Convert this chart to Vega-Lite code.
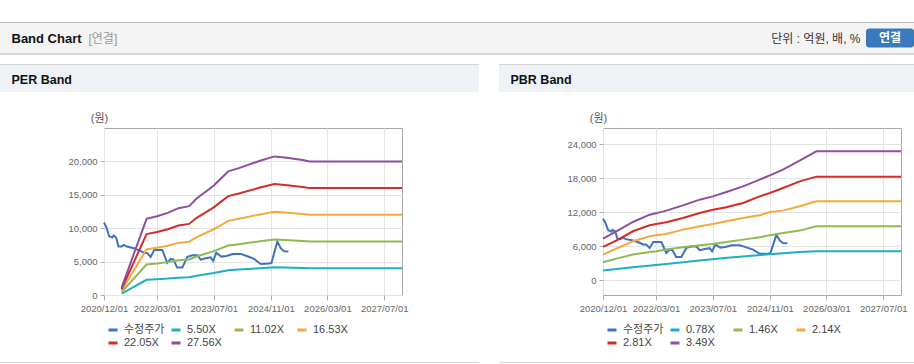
{
"$schema": "https://vega.github.io/schema/vega-lite/v6.json",
"padding": {"left": 0, "top": 22, "right": 0, "bottom": 0},
"background": "white",
"config": {
  "font": "Liberation Sans, Noto Sans CJK KR, sans-serif",
  "view": {"stroke": null},
  "axis": {"labelFontSize": 9.5, "labelColor": "#666666", "gridColor": "#e4e4e4", "tickColor": "#b0b0b0", "domain": false, "titleFontWeight": "normal", "labelOverlap": false, "labelFlush": false},
  "legend": {"orient": "none", "legendX": 3, "legendY": 196, "direction": "horizontal", "columns": 4, "symbolType": "stroke", "symbolSize": 81, "symbolStrokeWidth": 3, "labelFontSize": 11, "labelColor": "#444444", "labelOffset": 5, "gridAlign": "all", "columnPadding": 0, "rowPadding": 1, "padding": 0}
},
"datasets": {
  "price": [
    {"d":"2020-12-01","v":10850},{"d":"2020-12-20","v":10200},{"d":"2021-01-15","v":8800},{"d":"2021-02-10","v":8600},
    {"d":"2021-02-22","v":8900},{"d":"2021-03-15","v":8600},{"d":"2021-04-05","v":7250},{"d":"2021-04-30","v":7250},
    {"d":"2021-05-20","v":7500},{"d":"2021-06-15","v":7250},{"d":"2021-08-15","v":7000},{"d":"2021-10-12","v":6600},
    {"d":"2021-11-09","v":6300},{"d":"2021-12-05","v":6300},{"d":"2022-01-05","v":5700},{"d":"2022-02-05","v":6750},
    {"d":"2022-04-15","v":6750},{"d":"2022-05-28","v":4800},{"d":"2022-06-26","v":5400},{"d":"2022-07-20","v":5300},
    {"d":"2022-08-20","v":4100},{"d":"2022-10-04","v":4100},{"d":"2022-11-16","v":5700},{"d":"2022-12-29","v":5950},
    {"d":"2023-02-10","v":5950},{"d":"2023-03-10","v":5300},{"d":"2023-04-22","v":5500},{"d":"2023-06-04","v":5650},
    {"d":"2023-06-25","v":5100},{"d":"2023-07-22","v":6300},{"d":"2023-09-03","v":5750},{"d":"2023-10-16","v":5850},
    {"d":"2023-12-12","v":6150},{"d":"2024-02-17","v":6150},{"d":"2024-04-14","v":5800},{"d":"2024-06-10","v":5400},
    {"d":"2024-08-06","v":4650},{"d":"2024-10-20","v":4700},{"d":"2024-11-06","v":4800},{"d":"2024-12-27","v":8000},
    {"d":"2025-01-25","v":7000},{"d":"2025-02-22","v":6550},{"d":"2025-04-01","v":6500}
  ],
  "per": [
    {"s":"5.50X","d":"2021-05-01","v":220},{"s":"5.50X","d":"2021-12-01","v":2280},{"s":"5.50X","d":"2022-03-01","v":2360},{"s":"5.50X","d":"2022-06-01","v":2460},
    {"s":"5.50X","d":"2022-09-01","v":2600},{"s":"5.50X","d":"2022-12-01","v":2660},{"s":"5.50X","d":"2023-02-01","v":2880},{"s":"5.50X","d":"2023-07-01","v":3280},
    {"s":"5.50X","d":"2023-11-01","v":3700},{"s":"5.50X","d":"2024-02-01","v":3800},{"s":"5.50X","d":"2024-08-01","v":4020},{"s":"5.50X","d":"2024-12-01","v":4150},
    {"s":"5.50X","d":"2025-03-01","v":4120},{"s":"5.50X","d":"2025-08-01","v":4040},{"s":"5.50X","d":"2025-10-01","v":4000},{"s":"5.50X","d":"2027-12-01","v":4000},
    {"s":"11.02X","d":"2021-05-01","v":440},{"s":"11.02X","d":"2021-12-01","v":4560},{"s":"11.02X","d":"2022-03-01","v":4720},{"s":"11.02X","d":"2022-06-01","v":4920},
    {"s":"11.02X","d":"2022-09-01","v":5200},{"s":"11.02X","d":"2022-12-01","v":5320},{"s":"11.02X","d":"2023-02-01","v":5760},{"s":"11.02X","d":"2023-07-01","v":6560},
    {"s":"11.02X","d":"2023-11-01","v":7400},{"s":"11.02X","d":"2024-02-01","v":7600},{"s":"11.02X","d":"2024-08-01","v":8040},{"s":"11.02X","d":"2024-12-01","v":8300},
    {"s":"11.02X","d":"2025-03-01","v":8240},{"s":"11.02X","d":"2025-08-01","v":8080},{"s":"11.02X","d":"2025-10-01","v":8000},{"s":"11.02X","d":"2027-12-01","v":8000},
    {"s":"16.53X","d":"2021-05-01","v":660},{"s":"16.53X","d":"2021-12-01","v":6840},{"s":"16.53X","d":"2022-03-01","v":7080},{"s":"16.53X","d":"2022-06-01","v":7380},
    {"s":"16.53X","d":"2022-09-01","v":7800},{"s":"16.53X","d":"2022-12-01","v":7980},{"s":"16.53X","d":"2023-02-01","v":8640},{"s":"16.53X","d":"2023-07-01","v":9840},
    {"s":"16.53X","d":"2023-11-01","v":11100},{"s":"16.53X","d":"2024-02-01","v":11400},{"s":"16.53X","d":"2024-08-01","v":12060},{"s":"16.53X","d":"2024-12-01","v":12450},
    {"s":"16.53X","d":"2025-03-01","v":12360},{"s":"16.53X","d":"2025-08-01","v":12120},{"s":"16.53X","d":"2025-10-01","v":12000},{"s":"16.53X","d":"2027-12-01","v":12000},
    {"s":"22.05X","d":"2021-05-01","v":880},{"s":"22.05X","d":"2021-12-01","v":9120},{"s":"22.05X","d":"2022-03-01","v":9440},{"s":"22.05X","d":"2022-06-01","v":9840},
    {"s":"22.05X","d":"2022-09-01","v":10400},{"s":"22.05X","d":"2022-12-01","v":10640},{"s":"22.05X","d":"2023-02-01","v":11520},{"s":"22.05X","d":"2023-07-01","v":13120},
    {"s":"22.05X","d":"2023-11-01","v":14800},{"s":"22.05X","d":"2024-02-01","v":15200},{"s":"22.05X","d":"2024-08-01","v":16080},{"s":"22.05X","d":"2024-12-01","v":16600},
    {"s":"22.05X","d":"2025-03-01","v":16480},{"s":"22.05X","d":"2025-08-01","v":16160},{"s":"22.05X","d":"2025-10-01","v":16000},{"s":"22.05X","d":"2027-12-01","v":16000},
    {"s":"27.56X","d":"2021-05-01","v":1100},{"s":"27.56X","d":"2021-12-01","v":11400},{"s":"27.56X","d":"2022-03-01","v":11800},{"s":"27.56X","d":"2022-06-01","v":12300},
    {"s":"27.56X","d":"2022-09-01","v":13000},{"s":"27.56X","d":"2022-12-01","v":13300},{"s":"27.56X","d":"2023-02-01","v":14400},{"s":"27.56X","d":"2023-07-01","v":16400},
    {"s":"27.56X","d":"2023-11-01","v":18500},{"s":"27.56X","d":"2024-02-01","v":19000},{"s":"27.56X","d":"2024-08-01","v":20100},{"s":"27.56X","d":"2024-12-01","v":20750},
    {"s":"27.56X","d":"2025-03-01","v":20600},{"s":"27.56X","d":"2025-08-01","v":20200},{"s":"27.56X","d":"2025-10-01","v":20000},{"s":"27.56X","d":"2027-12-01","v":20000}
  ],
  "pbr": [
    {"s":"0.78X","d":"2020-12-01","v":1700},{"s":"0.78X","d":"2021-08-15","v":2290},{"s":"0.78X","d":"2022-05-28","v":2880},{"s":"0.78X","d":"2023-03-10","v":3460},
    {"s":"0.78X","d":"2023-12-21","v":4050},{"s":"0.78X","d":"2024-10-02","v":4520},{"s":"0.78X","d":"2025-07-15","v":4990},{"s":"0.78X","d":"2025-12-05","v":5110},{"s":"0.78X","d":"2027-12-01","v":5110},
    {"s":"1.46X","d":"2020-12-01","v":3170},{"s":"1.46X","d":"2021-03-25","v":3815},{"s":"1.46X","d":"2021-08-15","v":4520},{"s":"1.46X","d":"2022-01-05","v":4990},
    {"s":"1.46X","d":"2022-03-01","v":5100},{"s":"1.46X","d":"2022-05-28","v":5400},{"s":"1.46X","d":"2022-10-18","v":5810},{"s":"1.46X","d":"2023-03-10","v":6160},
    {"s":"1.46X","d":"2023-07-01","v":6400},{"s":"1.46X","d":"2023-10-25","v":6750},{"s":"1.46X","d":"2024-03-16","v":7160},{"s":"1.46X","d":"2024-08-06","v":7570},
    {"s":"1.46X","d":"2024-11-01","v":7920},{"s":"1.46X","d":"2025-02-22","v":8335},{"s":"1.46X","d":"2025-07-15","v":8750},{"s":"1.46X","d":"2025-12-05","v":9510},{"s":"1.46X","d":"2027-12-01","v":9510},
    {"s":"2.14X","d":"2020-12-01","v":4520},{"s":"2.14X","d":"2021-03-25","v":5577},{"s":"2.14X","d":"2021-08-15","v":6870},{"s":"2.14X","d":"2022-01-05","v":7750},
    {"s":"2.14X","d":"2022-03-01","v":7950},{"s":"2.14X","d":"2022-05-28","v":8160},{"s":"2.14X","d":"2022-10-18","v":8920},{"s":"2.14X","d":"2023-03-10","v":9510},
    {"s":"2.14X","d":"2023-07-01","v":9920},{"s":"2.14X","d":"2023-10-25","v":10390},{"s":"2.14X","d":"2024-03-16","v":10980},{"s":"2.14X","d":"2024-08-06","v":11450},
    {"s":"2.14X","d":"2024-11-01","v":12030},{"s":"2.14X","d":"2025-02-22","v":12270},{"s":"2.14X","d":"2025-07-15","v":13030},{"s":"2.14X","d":"2025-12-05","v":13910},{"s":"2.14X","d":"2027-12-01","v":13910},
    {"s":"2.81X","d":"2020-12-01","v":5870},{"s":"2.81X","d":"2021-03-25","v":6985},{"s":"2.81X","d":"2021-08-15","v":8630},{"s":"2.81X","d":"2022-01-05","v":9685},
    {"s":"2.81X","d":"2022-03-01","v":9900},{"s":"2.81X","d":"2022-05-28","v":10210},{"s":"2.81X","d":"2022-10-18","v":10980},{"s":"2.81X","d":"2023-03-10","v":11860},
    {"s":"2.81X","d":"2023-07-01","v":12440},{"s":"2.81X","d":"2023-10-25","v":12850},{"s":"2.81X","d":"2024-03-16","v":13620},{"s":"2.81X","d":"2024-08-06","v":14790},
    {"s":"2.81X","d":"2024-11-01","v":15380},{"s":"2.81X","d":"2025-02-22","v":16260},{"s":"2.81X","d":"2025-07-15","v":17430},{"s":"2.81X","d":"2025-12-05","v":18260},{"s":"2.81X","d":"2027-12-01","v":18260},
    {"s":"3.49X","d":"2020-12-01","v":7330},{"s":"3.49X","d":"2021-03-25","v":8630},{"s":"3.49X","d":"2021-08-15","v":10270},{"s":"3.49X","d":"2022-01-05","v":11560},
    {"s":"3.49X","d":"2022-03-01","v":11790},{"s":"3.49X","d":"2022-05-28","v":12270},{"s":"3.49X","d":"2022-10-18","v":13200},{"s":"3.49X","d":"2023-03-10","v":14200},
    {"s":"3.49X","d":"2023-07-01","v":14780},{"s":"3.49X","d":"2023-10-25","v":15550},{"s":"3.49X","d":"2024-03-16","v":16550},{"s":"3.49X","d":"2024-08-06","v":17730},
    {"s":"3.49X","d":"2024-11-01","v":18480},{"s":"3.49X","d":"2025-02-22","v":19480},{"s":"3.49X","d":"2025-07-15","v":21070},{"s":"3.49X","d":"2025-12-05","v":22720},{"s":"3.49X","d":"2027-12-01","v":22720}
  ]
},
"vconcat": [
  {
    "vconcat": [
      {
        "vconcat": [
          {"width": 914, "height": 1, "data": {"values": []}, "mark": "point", "view": {"fill": "#b9b9b9", "stroke": null}},
          {
            "hconcat": [
              {
                "width": 866, "height": 30,
                "view": {"fill": "#f4f4f4", "stroke": null},
                "data": {"values": []},
                "layer": [
                  {"mark": "point", "encoding": {
                    "x": {"field": "a", "type": "quantitative", "scale": {"domain": [0, 1]}, "axis": {"orient": "bottom", "title": "단위 : 억원, 배, %", "titleX": 860, "titleY": -15, "titleAlign": "right", "titleBaseline": "middle", "titleAngle": 0, "titleFontSize": 12, "titleColor": "#333333", "labels": false, "ticks": false, "grid": false, "domain": false}},
                    "y": {"field": "b", "type": "quantitative", "scale": {"domain": [0, 1]}, "axis": {"orient": "left", "title": "Band Chart", "titleX": 11, "titleY": 15, "titleAlign": "left", "titleBaseline": "middle", "titleAngle": 0, "titleFontSize": 13, "titleFontWeight": "bold", "titleColor": "#111111", "labels": false, "ticks": false, "grid": false, "domain": false}}
                  }},
                  {"mark": "point", "encoding": {
                    "x": {"field": "a", "type": "quantitative", "scale": {"domain": [0, 1]}, "axis": {"orient": "top", "title": "[연결]", "titleX": 88, "titleY": 15, "titleAlign": "left", "titleBaseline": "middle", "titleAngle": 0, "titleFontSize": 12, "titleColor": "#999999", "labels": false, "ticks": false, "grid": false, "domain": false}}
                  }}
                ],
                "resolve": {"scale": {"x": "independent"}, "axis": {"x": "independent"}}
              },
              {
                "width": 48, "height": 30,
                "view": {"fill": "#f4f4f4", "stroke": null},
                "data": {"values": [{"k": "연결"}]},
                "layer": [
                  {"mark": {"type": "rect", "fill": "#3a79bc", "cornerRadius": 3},
                   "encoding": {"y": {"field": "k", "type": "nominal", "scale": {"paddingInner": 0, "paddingOuter": 0.29}, "axis": null}}},
                  {"mark": {"type": "text", "color": "#ffffff", "fontWeight": "bold", "fontSize": 12},
                   "encoding": {"y": {"field": "k", "type": "nominal", "axis": null}, "text": {"field": "k"}}}
                ]
              }
            ],
            "spacing": 0, "bounds": "flush"
          }
        ],
        "spacing": 0, "bounds": "flush"
      },
      {"width": 914, "height": 2, "data": {"values": []}, "mark": "point", "view": {"fill": "#d9d9d9", "stroke": null}}
    ],
    "spacing": 31, "bounds": "flush"
  },
  {
    "vconcat": [
      {
        "vconcat": [
          {"hconcat": [
            {"width": 479, "height": 1, "data": {"values": []}, "mark": "point", "view": {"fill": "#d5d5d5", "stroke": null}},
            {"width": 415, "height": 1, "data": {"values": []}, "mark": "point", "view": {"fill": "#d5d5d5", "stroke": null}}
          ], "spacing": 20, "bounds": "flush"},
          {"hconcat": [
            {"width": 479, "height": 27, "data": {"values": []}, "mark": "point", "view": {"fill": "#eef2f7", "stroke": null},
             "encoding": {"y": {"field": "b", "type": "quantitative", "scale": {"domain": [0, 1]}, "axis": {"orient": "left", "title": "PER Band", "titleX": 11, "titleY": 14.5, "titleAlign": "left", "titleBaseline": "middle", "titleAngle": 0, "titleFontSize": 12.5, "titleFontWeight": "bold", "titleColor": "#111111", "labels": false, "ticks": false, "grid": false, "domain": false}}}},
            {"width": 415, "height": 27, "data": {"values": []}, "mark": "point", "view": {"fill": "#eef2f7", "stroke": null},
             "encoding": {"y": {"field": "b", "type": "quantitative", "scale": {"domain": [0, 1]}, "axis": {"orient": "left", "title": "PBR Band", "titleX": 11, "titleY": 14.5, "titleAlign": "left", "titleBaseline": "middle", "titleAngle": 0, "titleFontSize": 12.5, "titleFontWeight": "bold", "titleColor": "#111111", "labels": false, "ticks": false, "grid": false, "domain": false}}}}
          ], "spacing": 20, "bounds": "flush"}
        ],
        "spacing": 1, "bounds": "flush"
      },
      {
        "vconcat": [
          {
            "hconcat": [
              {"width": 104, "height": 167, "data": {"values": []}, "mark": "point"},
              {
                "width": 298, "height": 167,
                "view": {"stroke": "#a8a8a8", "fill": "white"},
                "encoding": {
                  "x": {"field": "d", "type": "temporal",
                        "scale": {"domain": [{"year": 2020, "month": 12, "date": 1}, {"year": 2027, "month": 12, "date": 1}], "nice": false},
                        "axis": {"title": null, "format": "%Y/%m/%d", "grid": true, "tickSize": 5, "labelPadding": 3,
                                 "values": [{"year": 2020, "month": 12, "date": 1}, {"year": 2022, "month": 3, "date": 1}, {"year": 2023, "month": 7, "date": 1}, {"year": 2024, "month": 11, "date": 1}, {"year": 2026, "month": 3, "date": 1}, {"year": 2027, "month": 7, "date": 1}]}},
                  "y": {"field": "v", "type": "quantitative",
                        "scale": {"domain": [0, 25000], "nice": false, "zero": false},
                        "axis": {"values": [0, 5000, 10000, 15000, 20000], "format": ",.0f", "grid": true, "tickSize": 4, "labelPadding": 3,
                                 "title": "(원)", "titleAngle": 0, "titleX": -5, "titleY": -10, "titleAlign": "center", "titleBaseline": "middle", "titleFontSize": 11, "titleColor": "#555555"}}
                },
                "layer": [
                  {"data": {"name": "price"}, "mark": {"type": "line", "strokeWidth": 2},
                   "encoding": {"color": {"datum": "수정주가", "type": "nominal",
                     "scale": {"domain": ["수정주가", "5.50X", "11.02X", "16.53X", "22.05X", "27.56X"], "range": ["#3d72c2", "#1cb0c6", "#8fba50", "#f5a93c", "#d42c27", "#8d4f9f"]},
                     "legend": {"title": null}}}},
                  {"data": {"name": "per"}, "mark": {"type": "line", "strokeWidth": 2},
                   "encoding": {"color": {"field": "s", "type": "nominal", "legend": {"title": null}}}}
                ]
              },
              {"width": 201, "height": 167, "data": {"values": []}, "mark": "point"},
              {
                "width": 298, "height": 167,
                "view": {"stroke": "#a8a8a8", "fill": "white"},
                "encoding": {
                  "x": {"field": "d", "type": "temporal",
                        "scale": {"domain": [{"year": 2020, "month": 12, "date": 1}, {"year": 2027, "month": 12, "date": 1}], "nice": false},
                        "axis": {"title": null, "format": "%Y/%m/%d", "grid": true, "tickSize": 5, "labelPadding": 3,
                                 "values": [{"year": 2020, "month": 12, "date": 1}, {"year": 2022, "month": 3, "date": 1}, {"year": 2023, "month": 7, "date": 1}, {"year": 2024, "month": 11, "date": 1}, {"year": 2026, "month": 3, "date": 1}, {"year": 2027, "month": 7, "date": 1}]}},
                  "y": {"field": "v", "type": "quantitative",
                        "scale": {"domain": [-2600, 26830], "nice": false, "zero": false},
                        "axis": {"values": [0, 6000, 12000, 18000, 24000], "format": ",.0f", "grid": true, "tickSize": 4, "labelPadding": 3,
                                 "title": "(원)", "titleAngle": 0, "titleX": -5, "titleY": -10, "titleAlign": "center", "titleBaseline": "middle", "titleFontSize": 11, "titleColor": "#555555"}}
                },
                "layer": [
                  {"data": {"name": "price"}, "mark": {"type": "line", "strokeWidth": 2},
                   "encoding": {"color": {"datum": "수정주가", "type": "nominal",
                     "scale": {"domain": ["수정주가", "0.78X", "1.46X", "2.14X", "2.81X", "3.49X"], "range": ["#3d72c2", "#1cb0c6", "#8fba50", "#f5a93c", "#d42c27", "#8d4f9f"]},
                     "legend": {"title": null}}}},
                  {"data": {"name": "pbr"}, "mark": {"type": "line", "strokeWidth": 2},
                   "encoding": {"color": {"field": "s", "type": "nominal", "legend": {"title": null}}}}
                ]
              }
            ],
            "spacing": 0, "bounds": "flush",
            "resolve": {"scale": {"color": "independent"}, "legend": {"color": "independent"}}
          },
          {"hconcat": [
            {"width": 479, "height": 1, "data": {"values": []}, "mark": "point", "view": {"fill": "#d5d5d5", "stroke": null}},
            {"width": 415, "height": 1, "data": {"values": []}, "mark": "point", "view": {"fill": "#d5d5d5", "stroke": null}}
          ], "spacing": 20, "bounds": "flush"}
        ],
        "spacing": 234, "bounds": "flush",
        "resolve": {"scale": {"color": "independent"}, "legend": {"color": "independent"}}
      }
    ],
    "spacing": 64, "bounds": "flush",
    "resolve": {"scale": {"color": "independent"}, "legend": {"color": "independent"}}
  }
],
"spacing": 42, "bounds": "flush",
"resolve": {"scale": {"color": "independent"}, "legend": {"color": "independent"}}
}
